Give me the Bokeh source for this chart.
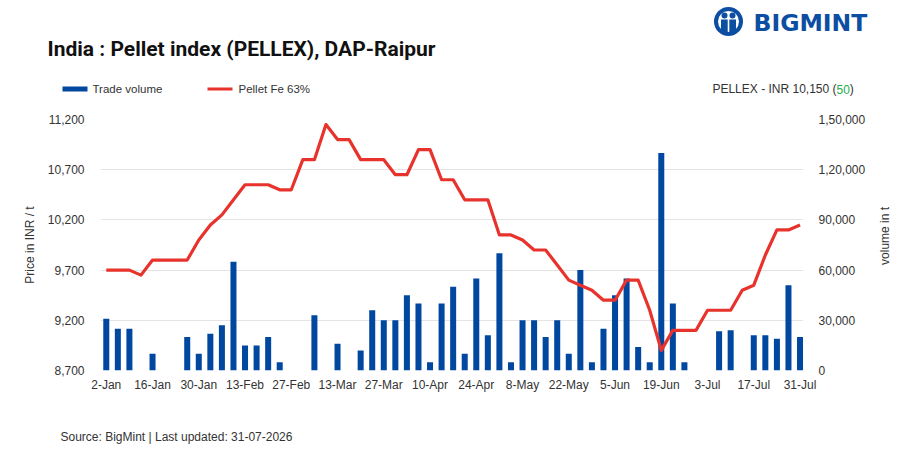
import numpy as np
from bokeh.plotting import figure
from bokeh.layouts import column, row
from bokeh.models import Range1d, LinearAxis, FixedTicker, NumeralTickFormatter
from bokeh.core.properties import value
from bokeh.embed import file_html
from bokeh.resources import INLINE

# ---------------- data ----------------
dates = ["2-Jan", "6-Jan", "9-Jan", "13-Jan", "16-Jan", "20-Jan", "23-Jan", "27-Jan", "30-Jan",
         "3-Feb", "6-Feb", "10-Feb", "13-Feb", "17-Feb", "20-Feb", "24-Feb", "27-Feb",
         "3-Mar", "6-Mar", "10-Mar", "13-Mar", "17-Mar", "20-Mar", "24-Mar", "27-Mar", "31-Mar",
         "3-Apr", "7-Apr", "10-Apr", "14-Apr", "17-Apr", "21-Apr", "24-Apr", "28-Apr",
         "1-May", "5-May", "8-May", "12-May", "15-May", "19-May", "22-May", "26-May", "29-May",
         "2-Jun", "5-Jun", "9-Jun", "12-Jun", "16-Jun", "19-Jun", "23-Jun", "26-Jun", "30-Jun",
         "3-Jul", "7-Jul", "10-Jul", "14-Jul", "17-Jul", "21-Jul", "24-Jul", "28-Jul", "31-Jul"]

price = [9700, 9700, 9700, 9650, 9800, 9800, 9800, 9800, 10000,
         10150, 10250, 10400, 10550, 10550, 10550, 10500, 10500,
         10800, 10800, 11150, 11000, 11000, 10800, 10800, 10800, 10650,
         10650, 10900, 10900, 10600, 10600, 10400, 10400, 10400,
         10050, 10050, 10000, 9900, 9900, 9750, 9600, 9550, 9500,
         9400, 9400, 9600, 9600, 9300, 8900, 9100, 9100, 9100,
         9300, 9300, 9300, 9500, 9550, 9850, 10100, 10100, 10150]

volume = [31000, 25000, 25000, 0, 10000, 0, 0, 20000, 10000,
          22000, 27000, 65000, 15000, 15000, 20000, 5000, 0,
          0, 33000, 0, 16000, 0, 12000, 36000, 30000, 30000,
          45000, 40000, 5000, 40000, 50000, 10000, 55000, 21000,
          70000, 5000, 30000, 30000, 20000, 30000, 10000, 60000, 5000,
          25000, 45000, 55000, 14000, 5000, 130000, 40000, 5000, 0,
          0, 23500, 24000, 0, 21000, 21000, 19000, 51000, 20000]

x_tick_idx = list(range(0, 61, 4))
price_ticks = [8700, 9200, 9700, 10200, 10700, 11200]
volume_ticks = [0, 30000, 60000, 90000, 120000, 150000]
volume_tick_labels = ["0", "30,000", "60,000", "90,000", "1,20,000", "1,50,000"]

title_text = "India : Pellet index (PELLEX), DAP-Raipur"
series_names = ["Trade volume", "Pellet Fe 63%"]
pellex_text = ["PELLEX - INR 10,150 (", "50", ")"]
footer_text = "Source: BigMint | Last updated: 31-07-2026"

BLUE = "#0047a0"
LOGO = "#0b4ea2"
RED = "#e8332d"
GREEN = "#22b04b"
TXT = "#333333"
FONT = "Liberation Sans"

W = 907
HEAD_H = 111
MAIN_H = 289
FOOT_H = 453 - HEAD_H - MAIN_H
STRIP_W = 34
MAIN_W = W - STRIP_W


def blank(width, height):
    f = figure(width=width, height=height, x_range=Range1d(0, width), y_range=Range1d(height, 0),
               output_backend="svg", toolbar_location=None,
               x_axis_location=None, y_axis_location=None, min_border=0)
    f.grid.visible = False
    f.outline_line_color = None
    f.background_fill_color = "white"
    f.border_fill_color = "white"
    return f


def txt(f, t, x, y, size, color=TXT, style="normal", align="left", angle=0.0, font=FONT):
    f.text(x=[x], y=[y], text=[t], text_font=value(font), text_font_size=value(f"{size}px"),
           text_color=color, text_font_style=style, text_align=align,
           text_baseline="middle", angle=angle)


# ---------------- header ----------------
head = blank(W, HEAD_H)
txt(head, title_text, 47, 48, 21, color="#111111", style="bold", font="Roboto")
head.rect(x=[74.5], y=[88.5], width=25, height=5, fill_color=BLUE, line_color=None)
txt(head, series_names[0], 92, 88.5, 11.5)
head.line(x=[207, 232], y=[88.5, 88.5], line_color=RED, line_width=3)
txt(head, series_names[1], 238, 88.5, 11.5)
txt(head, pellex_text[0], 836, 88.5, 12, align="right")
txt(head, pellex_text[1], 836, 88.5, 12, color=GREEN)
txt(head, pellex_text[2], 849.3, 88.5, 12)
# logo
head.circle(x=[728], y=[21], radius=14.5, fill_color=LOGO, line_color=None)
head.circle(x=[728], y=[21], radius=10.5, fill_color="white", line_color=None)
head.circle(x=[724, 732], y=[15, 15], radius=3, fill_color=LOGO, line_color=None)
head.quad(left=[720.5, 728.8], right=[727.2, 735.5], top=[19, 19], bottom=[33, 33],
          fill_color=LOGO, line_color=None)
txt(head, "BIGMINT", 753, 22, 23.5, color=LOGO, style="bold", font="DejaVu Sans")

# ---------------- main chart ----------------
x = list(range(len(dates)))
p = figure(width=MAIN_W, height=MAIN_H,
           x_range=Range1d(-0.5, 60.3), y_range=Range1d(8700, 11200),
           output_backend="svg", toolbar_location=None,
           min_border_left=100, min_border_right=MAIN_W - 803,
           min_border_top=8, min_border_bottom=MAIN_H - 8 - 251)
p.extra_y_ranges = {"vol": Range1d(0, 150000)}

p.vbar(x=x, top=volume, width=0.52, y_range_name="vol", fill_color=BLUE, line_color=None)
p.line(x, price, line_color=RED, line_width=3.2, line_join="round")

xa = p.xaxis[0]
xa.ticker = FixedTicker(ticks=x_tick_idx)
xa.major_label_overrides = {i: dates[i] for i in x_tick_idx}
ya = p.yaxis[0]
ya.ticker = FixedTicker(ticks=price_ticks)
ya.formatter = NumeralTickFormatter(format="0,0")
ya.major_label_standoff = 10
ya.axis_label = "Price in INR / t"
ya.axis_label_standoff = 8
ya.axis_label_text_font_size = "12px"
ya.axis_label_text_font_style = "normal"
ya.axis_label_text_font = FONT
ya.axis_label_text_color = TXT
ra = LinearAxis(y_range_name="vol", ticker=FixedTicker(ticks=volume_ticks),
                major_label_overrides={v: l for v, l in zip(volume_ticks, volume_tick_labels)})
ra.major_label_standoff = 9
p.add_layout(ra, "right")

for ax in [xa, ya, ra]:
    ax.axis_line_color = None
    ax.major_tick_line_color = None
    ax.minor_tick_line_color = None
    ax.major_label_text_font_size = "12px"
    ax.major_label_text_color = TXT
    ax.major_label_text_font = FONT
xa.major_label_standoff = 1

p.xgrid.visible = False
p.ygrid.grid_line_color = "#e4e4e4"
p.ygrid.grid_line_width = 1.2
p.outline_line_color = None
p.background_fill_color = "white"
p.border_fill_color = "white"

# right title strip
strip = blank(STRIP_W, MAIN_H)
txt(strip, "volume in t", 884 - MAIN_W, 245 - HEAD_H, 12, align="center", angle=np.pi / 2)

# ---------------- footer ----------------
foot = blank(W, FOOT_H)
txt(foot, footer_text, 60, 436 - HEAD_H - MAIN_H, 12)

layout = column(head, row(p, strip, spacing=0), foot, spacing=0)
open("out.html", "w").write(file_html(layout, INLINE))
